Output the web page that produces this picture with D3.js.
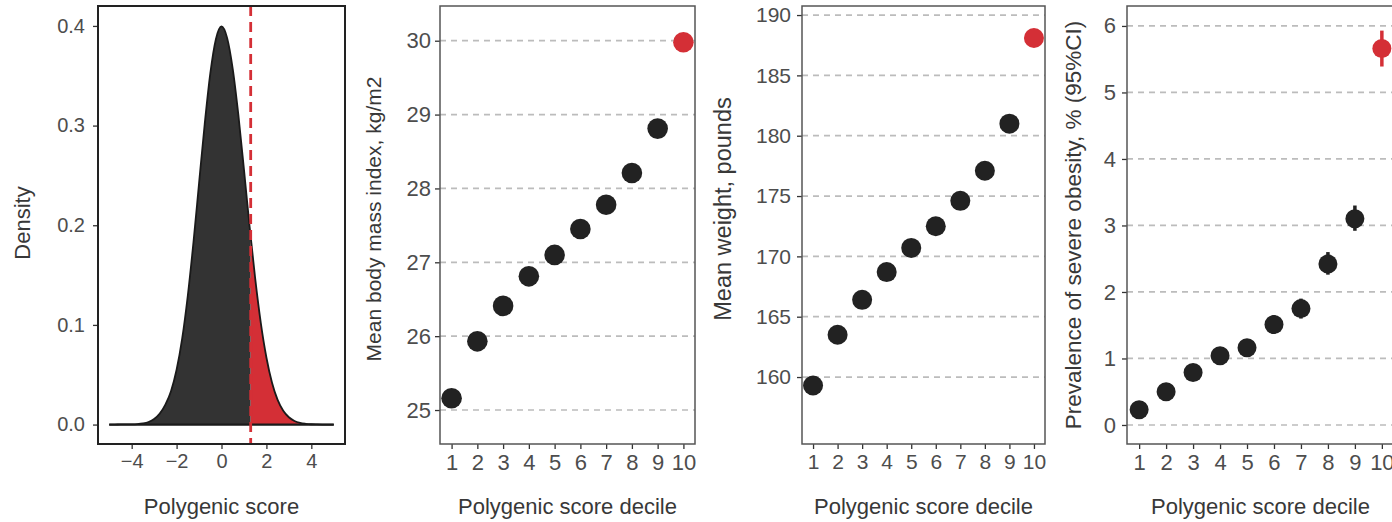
<!DOCTYPE html>
<html>
<head>
<meta charset="utf-8">
<script src="https://cdn.jsdelivr.net/npm/d3@7"></script>
<style>
  body { margin: 0; background: #fff; }
  svg { display: block; font-family: "Liberation Sans", Arial, sans-serif; }
</style>
</head>
<body>
<div id="chart"></div>
<script>
// density of the polygenic score (step 0.25)
const densityScores = [-5, -4.75, -4.5, -4.25, -4, -3.75, -3.5, -3.25, -3, -2.75, -2.5, -2.25, -2, -1.75, -1.5, -1.25, -1, -0.75, -0.5, -0.25,
    0, 0.25, 0.5, 0.75, 1, 1.25, 1.5, 1.75, 2, 2.25, 2.5, 2.75, 3, 3.25, 3.5, 3.75, 4, 4.25, 4.5, 4.75, 5];
const densityValues = [0, 0, 0.0001, 0.0001, 0.0002, 0.0005, 0.0012, 0.0026, 0.0055, 0.011, 0.02, 0.0335, 0.055, 0.0865, 0.1295, 0.1826, 0.242, 0.3011, 0.3521, 0.3867,
    0.3995, 0.388, 0.357, 0.311, 0.256, 0.199, 0.1466, 0.102, 0.0673, 0.0419, 0.0247, 0.0138, 0.0073, 0.0036, 0.0017, 0.0008, 0.0003, 0.0001, 0, 0, 0];
const cutoffScore = 1.3;

// decile panels
const deciles = [1, 2, 3, 4, 5, 6, 7, 8, 9, 10];
const bmiMeans = [25.16, 25.93, 26.41, 26.81, 27.1, 27.45, 27.78, 28.21, 28.81, 29.98];
const weightMeans = [159.3, 163.5, 166.4, 168.7, 170.7, 172.5, 174.6, 177.1, 181.0, 188.1];
const obesityPrevalence = [0.23, 0.50, 0.79, 1.04, 1.16, 1.51, 1.75, 2.42, 3.10, 5.66];
const obesityLower = [0.17, 0.42, 0.69, 0.93, 1.04, 1.37, 1.60, 2.26, 2.92, 5.39];
const obesityUpper = [0.29, 0.58, 0.89, 1.15, 1.28, 1.65, 1.90, 2.60, 3.30, 5.93];

// tick labels
const densityXTicks = [-4, -2, 0, 2, 4];
const densityYTicks = [0, 0.1, 0.2, 0.3, 0.4];
const bmiTicks = [25, 26, 27, 28, 29, 30];
const weightTicks = [160, 165, 170, 175, 180, 185, 190];
const obesityTicks = [0, 1, 2, 3, 4, 5, 6];

// set dimensions
const width = 1392,
    height = 522,
    plotTop = 6,
    plotBottom = 444;

const red = "#d42f36",
    dark = "#222222",
    tickColor = "#4d4d4d",
    titleColor = "#383838";

// create svg
const svg = d3.select("#chart")
    .append("svg")
    .attr("width", width)
    .attr("height", height);

// draw one panel frame: scales, grid, axes, titles
const makePanel = (p) => {
    const x = d3.scaleLinear().domain(p.xDomain).range([p.left, p.right]);
    const y = d3.scaleLinear().domain(p.yDomain).range([plotBottom, plotTop]);
    const g = svg.append("g");

    if (p.grid) {
        g.append("g")
            .selectAll("line")
            .data(p.yTicks)
            .enter()
            .append("line")
            .attr("x1", p.left)
            .attr("x2", p.right)
            .attr("y1", d => y(d))
            .attr("y2", d => y(d))
            .attr("stroke", "#bcbcbc")
            .attr("stroke-width", 1.7)
            .attr("stroke-dasharray", "6,5");
    }

    const yAxis = g.append("g")
        .attr("transform", `translate(${p.left},0)`)
        .call(d3.axisLeft(y).tickValues(p.yTicks).tickSize(5).tickPadding(p.yPad).tickFormat(p.yFormat || d3.format("d")));
    const xAxis = g.append("g")
        .attr("transform", `translate(0,${plotBottom})`)
        .call(d3.axisBottom(x).tickValues(p.xTicks).tickSize(5).tickPadding(5).tickFormat(p.xFormat || d3.format("d")));

    [yAxis, xAxis].forEach(a => {
        a.select(".domain").remove();
        a.selectAll(".tick line").attr("stroke", "#333").attr("stroke-width", 1.3);
        a.selectAll(".tick text").attr("fill", tickColor).style("font-size", p.tickSize + "px");
    });

    // axis titles
    g.append("text")
        .attr("transform", `translate(${p.yTitleX},${p.yTitleY}) rotate(-90)`)
        .attr("text-anchor", "middle")
        .attr("fill", titleColor)
        .style("font-size", p.yTitleSize + "px")
        .text(p.yTitle);
    g.append("text")
        .attr("x", (p.left + p.right) / 2)
        .attr("y", 514)
        .attr("text-anchor", "middle")
        .attr("fill", titleColor)
        .style("font-size", "22px")
        .text(p.xTitle);

    return { g, x, y, p };
};

const drawBorder = (panel, color, w) => {
    panel.g.append("rect")
        .attr("x", panel.p.left)
        .attr("y", plotTop)
        .attr("width", panel.p.right - panel.p.left)
        .attr("height", plotBottom - plotTop)
        .attr("fill", "none")
        .attr("stroke", color)
        .attr("stroke-width", w);
};

// panel 1: density
const density = makePanel({
    left: 98, right: 345,
    xDomain: [-5.5, 5.5], yDomain: [-0.0195, 0.42],
    xTicks: densityXTicks, yTicks: densityYTicks,
    xFormat: d => d < 0 ? "\u2212" + Math.abs(d) : d,
    yFormat: d3.format(".1f"), yPad: 8, tickSize: 20,
    yTitle: "Density", yTitleX: 30, yTitleY: 223, yTitleSize: 22,
    xTitle: "Polygenic score",
    grid: false
});

const densityData = densityScores.map((s, i) => ({ s: s, v: densityValues[i] }));
const area = d3.area()
    .x(d => density.x(d.s))
    .y0(density.y(0))
    .y1(d => density.y(d.v))
    .curve(d3.curveMonotoneX);
const outline = d3.line()
    .x(d => density.x(d.s))
    .y(d => density.y(d.v))
    .curve(d3.curveMonotoneX);

svg.append("clipPath").attr("id", "clip-low")
    .append("rect")
    .attr("x", 0).attr("y", 0)
    .attr("width", density.x(cutoffScore)).attr("height", height);
svg.append("clipPath").attr("id", "clip-high")
    .append("rect")
    .attr("x", density.x(cutoffScore)).attr("y", 0)
    .attr("width", width).attr("height", height);

density.g.append("path")
    .datum(densityData)
    .attr("d", area)
    .attr("fill", "#333333")
    .attr("clip-path", "url(#clip-low)");
density.g.append("path")
    .datum(densityData)
    .attr("d", area)
    .attr("fill", red)
    .attr("clip-path", "url(#clip-high)");
density.g.append("path")
    .datum(densityData)
    .attr("d", outline)
    .attr("fill", "none")
    .attr("stroke", "#1a1a1a")
    .attr("stroke-width", 1.8);
density.g.append("line")
    .attr("x1", density.x(densityScores[0]))
    .attr("x2", density.x(densityScores[densityScores.length - 1]))
    .attr("y1", density.y(0))
    .attr("y2", density.y(0))
    .attr("stroke", "#1a1a1a")
    .attr("stroke-width", 2.2);

density.g.append("line")
    .attr("x1", density.x(cutoffScore))
    .attr("x2", density.x(cutoffScore))
    .attr("y1", plotTop)
    .attr("y2", plotBottom)
    .attr("stroke", red)
    .attr("stroke-width", 2.8)
    .attr("stroke-dasharray", "10,6");
drawBorder(density, "#222", 2);

// decile dot panels
const dotPanel = (cfg, values, r, lower, upper) => {
    const panel = makePanel(Object.assign({
        xDomain: [0.55, 10.45],
        xTicks: deciles,
        xTitle: "Polygenic score decile",
        grid: true
    }, cfg));

    if (lower) {
        panel.g.append("g")
            .selectAll("line")
            .data(deciles)
            .enter()
            .append("line")
            .attr("x1", d => panel.x(d))
            .attr("x2", d => panel.x(d))
            .attr("y1", (d, i) => panel.y(lower[i]))
            .attr("y2", (d, i) => panel.y(upper[i]))
            .attr("stroke", d => d === 10 ? red : dark)
            .attr("stroke-width", 3.5);
    }

    panel.g.append("g")
        .selectAll("circle")
        .data(deciles)
        .enter()
        .append("circle")
        .attr("cx", d => panel.x(d))
        .attr("cy", (d, i) => panel.y(values[i]))
        .attr("r", r)
        .attr("fill", d => d === 10 ? red : dark);

    drawBorder(panel, "#555", 1.5);
    return panel;
};

dotPanel({
    left: 440, right: 695,
    yDomain: [24.54, 30.47], yTicks: bmiTicks, yPad: 4, tickSize: 22,
    yTitle: "Mean body mass index, kg/m2", yTitleX: 381, yTitleY: 219, yTitleSize: 21
}, bmiMeans, 10.3);

dotPanel({
    left: 802, right: 1045,
    yDomain: [154.45, 190.75], yTicks: weightTicks, yPad: 6, tickSize: 21,
    yTitle: "Mean weight, pounds", yTitleX: 731, yTitleY: 209, yTitleSize: 23.5
}, weightMeans, 10);

dotPanel({
    left: 1127, right: 1394,
    yDomain: [-0.286, 6.30], yTicks: obesityTicks, yPad: 6, tickSize: 22,
    yTitle: "Prevalence of severe obesity, % (95%CI)", yTitleX: 1081, yTitleY: 225, yTitleSize: 22.5
}, obesityPrevalence, 9.5, obesityLower, obesityUpper);
</script>
</body>
</html>
